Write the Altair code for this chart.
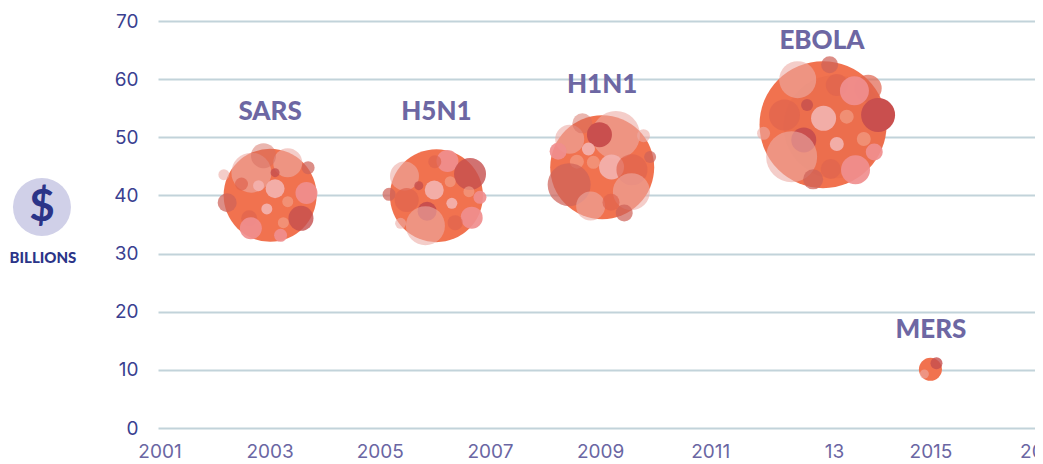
import altair as alt
import pandas as pd

# Badge left of the axis (drawn first)
badge_x = [1998.857]
badge_y = [38.0]
badge_d = [58]
badge_t = ["badge"]

sars_x = [2003.00,2002.66,2003.32,2002.88,2003.09,2003.69,2002.16,2002.48,2002.79,2003.09,2003.66,2003.32,2002.22,2002.94,2003.56,2002.62,2002.65,2003.24,2003.19]
sars_y = [40.02,43.92,45.64,46.84,43.92,44.78,43.57,41.97,41.68,41.17,40.42,38.93,38.76,37.67,36.06,36.06,34.34,35.32,33.14]
sars_d = [93,40,29,25,9,13,11,13,11,19,22,11,19,11,25,16,22,11,13]
sars_t = ["base","veil","veil","smoke","dark","dusk","veil","ember","pink","pink","rose","blush","dusk","pink","dark","ember","rose","blush","rose"]

h5n1_x = [2006.02,2005.44,2006.22,2005.99,2006.63,2006.27,2005.70,2005.98,2005.16,2005.48,2006.61,2006.81,2006.30,2005.85,2005.82,2005.37,2006.66,2006.36]
h5n1_y = [39.96,43.34,45.92,45.81,43.69,42.37,41.68,40.94,40.19,39.22,40.65,39.67,38.64,37.27,34.80,35.20,36.18,35.32]
h5n1_d = [93,29,22,13,32,11,9,19,13,24,11,13,11,19,39,11,22,15]
h5n1_t = ["base","veil","rose","ember","dark","blush","dark","pink","dusk","ember","blush","rose","pink","deep","veil","veil","rose","ember"]

h1n1_x = [2009.03,2009.28,2008.44,2008.67,2008.98,2009.78,2008.78,2008.23,2009.90,2008.57,2008.87,2009.20,2009.57,2008.43,2009.56,2008.82,2009.19,2009.43]
h1n1_y = [44.84,50.40,49.65,52.40,50.45,50.28,47.99,47.59,46.61,45.81,45.69,44.89,44.43,41.85,40.65,38.18,38.82,36.98]
h1n1_d = [104,48,29,20,25,13,13,17,12,14,13,25,31,43,37,29,17,17]
h1n1_t = ["base","veil","veil","smoke","deep","veil","pink","rose","dusk","blush","blush","pink","ember","dusk","veil","veil","ember","dusk"]

ebola_x = [2013.04,2013.26,2012.58,2013.16,2013.29,2013.86,2013.61,2014.04,2012.34,2012.75,2013.05,2013.47,2011.96,2012.69,2012.47,2013.29,2013.78,2013.97,2013.18,2013.63,2012.86]
ebola_y = [52.17,51.83,59.91,62.49,59.00,58.42,58.02,53.84,53.84,55.56,53.26,53.55,50.68,49.54,46.67,48.85,49.71,47.47,44.55,44.43,42.77]
ebola_d = [127,103,37,17,22,27,29,34,31,12,25,14,13,25,51,14,14,17,20,29,20]
ebola_t = ["base","haze","veil","dusk","ember","ember","rose","deep","ember","dark","pink","blush","veil","deep","veil","pink","blush","rose","ember","rose","dusk"]

mers_x = [2014.99,2015.10,2014.88]
mers_y = [10.09,11.12,9.29]
mers_d = [23,12,9]
mers_t = ["base","dark","veil"]

label_names = ["SARS","H5N1","H1N1","EBOLA","MERS"]
label_x = [2003.00,2006.02,2009.03,2013.02,2015.00]
label_y = [54.35,54.35,59.0,66.6,16.9]

icon_names = ["$","BILLIONS"]
icon_x = [1998.857,1998.875]
icon_y = [37.9,29.24]
icon_sizes = ["big","small"]

x_tick_pos = [2001,2003,2005,2007,2009,2011,2013.25,2015,2017]
x_tick_text = ["2001","2003","2005","2007","2009","2011","13","2015","2017"]
x_tick_y = [-4.13] * len(x_tick_pos)
y_ticks = [0,10,20,30,40,50,60,70]

tone_names = ["badge","base","haze","veil","pink","rose","dark","deep","dusk","smoke","ember","blush"]
tone_colors = ["#d0d0e8","#f1724f","rgba(217,96,74,0.18)","rgba(236,172,165,0.6)","rgba(242,176,172,0.95)",
               "rgba(240,142,142,0.92)","rgba(198,79,78,0.8)","#c94f4e","rgba(207,98,89,0.72)",
               "rgba(214,110,95,0.5)","rgba(224,100,79,0.7)","rgba(244,165,143,0.6)"]

xs = badge_x + sars_x + h5n1_x + h1n1_x + ebola_x + mers_x
ys = badge_y + sars_y + h5n1_y + h1n1_y + ebola_y + mers_y
ds = badge_d + sars_d + h5n1_d + h1n1_d + ebola_d + mers_d
ts = badge_t + sars_t + h5n1_t + h1n1_t + ebola_t + mers_t
bubbles = pd.DataFrame({"year": xs, "value": ys, "d": ds, "tone": ts})
labels = pd.DataFrame({"name": label_names, "year": label_x, "value": label_y})
icons = pd.DataFrame({"name": icon_names, "year": icon_x, "value": icon_y, "kind": icon_sizes})
x_labels = pd.DataFrame({"name": x_tick_text, "year": x_tick_pos, "value": x_tick_y})

x_scale = alt.Scale(domain=[2000.964, 2016.889], nice=False, zero=False)
y_scale = alt.Scale(domain=[0, 70], nice=False, zero=False)

y_axis = alt.Axis(values=y_ticks, title=None, grid=True, gridColor="#c2d3da", gridWidth=2,
                  domain=False, ticks=False, labelColor="#3a4090", labelFont="Inter",
                  labelFontSize=19, labelPadding=20, labelBound=False, labelFlush=False)

circles = alt.Chart(bubbles).mark_circle(opacity=1).encode(
    x=alt.X("year:Q", scale=x_scale, axis=None),
    y=alt.Y("value:Q", scale=y_scale, axis=y_axis),
    size=alt.Size("d:Q", legend=None, scale=alt.Scale(type="pow", exponent=2, domain=[0, 100], range=[0, 10000])),
    color=alt.Color("tone:N", legend=None, scale=alt.Scale(domain=tone_names, range=tone_colors)),
)

def text_layer(df, **mark):
    return alt.Chart(df).mark_text(baseline="middle", **mark).encode(
        x=alt.X("year:Q", scale=x_scale, axis=None),
        y=alt.Y("value:Q", scale=y_scale),
        text="name:N",
    )

tick_text = text_layer(x_labels, font="Inter", fontSize=19, color="#6a66a3")
name_text = text_layer(labels, font="Lato", fontWeight=900, fontSize=26, color="#6d67a3")
icon_big = text_layer(icons[icons.kind == "big"], font="Lato", fontWeight="bold", fontSize=44, color="#2b3488")
icon_small = text_layer(icons[icons.kind == "small"], font="Lato", fontWeight=900, fontSize=15, color="#2b3488")

chart = alt.layer(circles, tick_text, name_text, icon_big, icon_small).properties(
    width=877, height=407,
    autosize=alt.AutoSizeParams(type="none"),
    padding={"left": 150, "top": 13, "right": 0, "bottom": 34},
).configure_view(stroke=None)

chart.save("out.html", embed_options={"renderer": "svg", "actions": False})
